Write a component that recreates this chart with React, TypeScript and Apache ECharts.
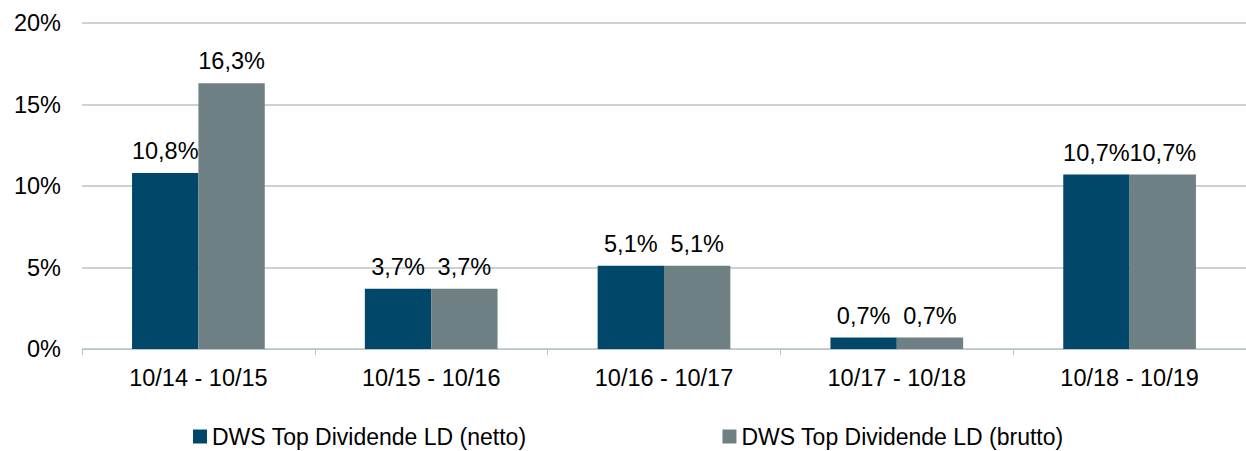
import React, { useEffect, useRef } from "react";
import * as echarts from "echarts";

const categories = ["10/14 - 10/15", "10/15 - 10/16", "10/16 - 10/17", "10/17 - 10/18", "10/18 - 10/19"];
const netto = [10.8, 3.7, 5.1, 0.7, 10.7];
const brutto = [16.3, 3.7, 5.1, 0.7, 10.7];
const seriesNames = ["DWS Top Dividende LD (netto)", "DWS Top Dividende LD (brutto)"];
const yTicks = [0, 5, 10, 15, 20];

const FONT = "Liberation Sans, Arial, sans-serif";
const FS = 23.5;
const fmt = (v: number) => v.toFixed(1).replace(".", ",") + "%";

export default function App() {
  const ref = useRef<HTMLDivElement>(null);
  useEffect(() => {
    if (!ref.current) return;
    const chart = echarts.init(ref.current, undefined, { renderer: "svg" });
    const label = {
      show: true,
      position: "top" as const,
      distance: 10,
      fontSize: FS,
      fontFamily: FONT,
      color: "#000",
      formatter: (p: any) => fmt(p.value),
    };
    chart.setOption({
      animation: false,
      textStyle: { fontFamily: FONT },
      grid: { left: 82, right: -11, top: 23, bottom: 102, containLabel: false },
      legend: {
        data: seriesNames,
        left: 193,
        top: 425,
        padding: 0,
        itemWidth: 14,
        itemHeight: 14,
        itemGap: 196,
        icon: "rect",
        textStyle: { fontSize: 23, color: "#000", fontFamily: FONT, padding: [0, 0, 0, 0] },
      },
      xAxis: {
        type: "category",
        data: categories,
        axisLine: { lineStyle: { color: "#b8c4c6", width: 1 } },
        axisTick: { show: true, length: 6, lineStyle: { color: "#b8c4c6" } },
        axisLabel: { fontSize: FS, color: "#000", margin: 17, fontFamily: FONT },
      },
      yAxis: {
        type: "value",
        min: yTicks[0],
        max: yTicks[yTicks.length - 1],
        interval: 5,
        axisLine: { show: false },
        axisTick: { show: false },
        splitLine: { lineStyle: { color: "#b8c4c6", width: 1.5 } },
        axisLabel: { fontSize: FS, color: "#000", margin: 21, fontFamily: FONT, formatter: (v: number) => v + "%" },
      },
      series: [
        {
          name: seriesNames[0],
          type: "bar",
          data: netto,
          barCategoryGap: "43%",
          barGap: "0%",
          itemStyle: { color: "#00476a" },
          label,
        },
        {
          name: seriesNames[1],
          type: "bar",
          data: brutto,
          barCategoryGap: "43%",
          barGap: "0%",
          itemStyle: { color: "#6e8084" },
          label,
        },
      ],
    });
    return () => chart.dispose();
  }, []);
  return <div ref={ref} style={{ width: 1246, height: 451, position: "absolute", left: 0, top: 0 }} />;
}
